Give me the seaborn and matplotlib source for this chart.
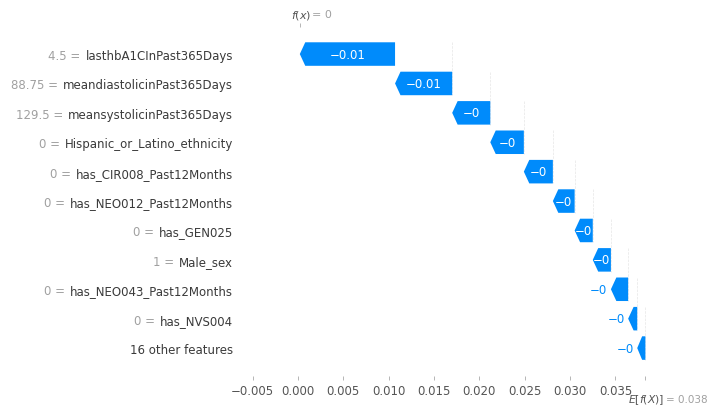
import numpy as np
import matplotlib
matplotlib.use("Agg")
import matplotlib.pyplot as plt
import seaborn as sns

# SHAP waterfall values
feature_names = ["lasthbA1CInPast365Days", "meandiastolicinPast365Days",
                 "meansystolicinPast365Days", "Hispanic_or_Latino_ethnicity",
                 "has_CIR008_Past12Months", "has_NEO012_Past12Months",
                 "has_GEN025", "Male_sex", "has_NEO043_Past12Months",
                 "has_NVS004", "16 other features"]
feature_values = ["4.5", "88.75", "129.5", "0", "0", "0", "0", "1", "0", "0", ""]
shap_values = [-0.0105, -0.0063, -0.0042, -0.0037, -0.0032, -0.0024,
               -0.0020, -0.0020, -0.0019, -0.0010, -0.0009]
base_value = 0.0383
base_label = "0.038"
fx_label = "0"
x_ticks = [-0.005, 0.0, 0.005, 0.010, 0.015, 0.020, 0.025, 0.030, 0.035]

blue = "#008bfb"

sns.set_style("white")
plt.rcParams["font.family"] = ["DejaVu Sans"]

W, H = 712, 410
fig = plt.figure(figsize=(W / 100, H / 100), dpi=100)
ax = fig.add_axes([240 / W, 1 - 377 / H, 420 / W, (377 - 28) / H])

n = len(feature_names)
ends = base_value + np.cumsum(shap_values[::-1])[::-1]
starts = ends - np.array(shap_values)
fx = ends[0]

bar_h = 0.8
for i in range(n):
    s, e, v = starts[i], ends[i], shap_values[i]
    hl = min(0.0006, 0.6 * abs(v))
    xs = [s, e + hl, e, e + hl, s]
    ys = [i - bar_h / 2, i - bar_h / 2, i, i + bar_h / 2, i + bar_h / 2]
    ax.fill(xs, ys, color=blue, lw=0, zorder=3)
    # faint connector to the row above
    if i > 0:
        ax.plot([s, s], [i - 1 - 0.4, i + 0.4], color="#e6e6e6", ls="--",
                lw=0.5, zorder=1)

    txt = f"{v:.2f}".rstrip("0").rstrip(".").replace("-", "\u2212")
    if abs(v) >= 0.00195:
        ax.text((s + e) / 2, i, txt, color="white", ha="center", va="center",
                fontsize=8.5, zorder=4)
    else:
        ax.text(e - 0.0004, i, txt, color=blue, ha="right", va="center",
                fontsize=8.5, zorder=4)

ax.set_xlim((240 - 298) / 9070, (660 - 298) / 9070)
ax.set_ylim(n - 1 + 0.95, -0.92)

# y labels: dark feature names, gray "value =" in front
ax.set_yticks(range(n))
ax.set_yticklabels(feature_names, fontsize=8.5, color="#3a3a3a")
ax.tick_params(axis="y", length=0, pad=5)

ax.set_xticks(x_ticks)
ax.set_xticklabels([f"{t:.3f}".replace("-", "\u2212") for t in x_ticks],
                   fontsize=8.5, color="#555555")
ax.tick_params(axis="x", length=3, width=0.6, color="#aaaaaa", pad=3)

for sp in ax.spines.values():
    sp.set_visible(False)

# extra tick marks for E[f(X)] and f(x)
ax2 = ax.twiny()
ax2.set_xlim(ax.get_xlim())
ax2.xaxis.set_ticks_position("bottom")
ax2.set_xticks([base_value])
ax2.set_xticklabels([""])
ax2.tick_params(axis="x", length=3, width=0.6, color="#aaaaaa")
ax3 = ax.twiny()
ax3.set_xlim(ax.get_xlim())
ax3.set_xticks([fx])
ax3.set_xticklabels([""])
ax3.tick_params(axis="x", length=3, width=0.6, color="#aaaaaa")
for a in (ax2, ax3):
    for sp in a.spines.values():
        sp.set_visible(False)

fig.canvas.draw()
renderer = fig.canvas.get_renderer()
for lab, val, i in zip(ax.get_yticklabels(), feature_values, range(n)):
    if not val:
        continue
    bb = lab.get_window_extent(renderer)
    ypix = ax.transData.transform((0, i))[1]
    fig.text((bb.x0 - 5) / W, ypix / H, val + " =", ha="right",
             va="center_baseline", fontsize=8.5, color="#a0a0a0")

ax.annotate("$E[f(X)]$", xy=(base_value, 0), xycoords=("data", "axes fraction"),
            xytext=(-17, -23), textcoords="offset pixels", ha="left", va="center",
            fontsize=7.8, color="#555555")
ax.annotate("= " + base_label, xy=(base_value, 0), xycoords=("data", "axes fraction"),
            xytext=(21, -23), textcoords="offset pixels", ha="left", va="center",
            fontsize=7.5, color="#a0a0a0")
ax.annotate("$f(x)$", xy=(fx, 1), xycoords=("data", "axes fraction"),
            xytext=(-9, 13), textcoords="offset pixels", ha="left", va="center",
            fontsize=8, color="#555555")
ax.annotate("= " + fx_label, xy=(fx, 1), xycoords=("data", "axes fraction"),
            xytext=(12, 13), textcoords="offset pixels", ha="left", va="center",
            fontsize=8, color="#a0a0a0")

fig.savefig("out.png", dpi=100)
